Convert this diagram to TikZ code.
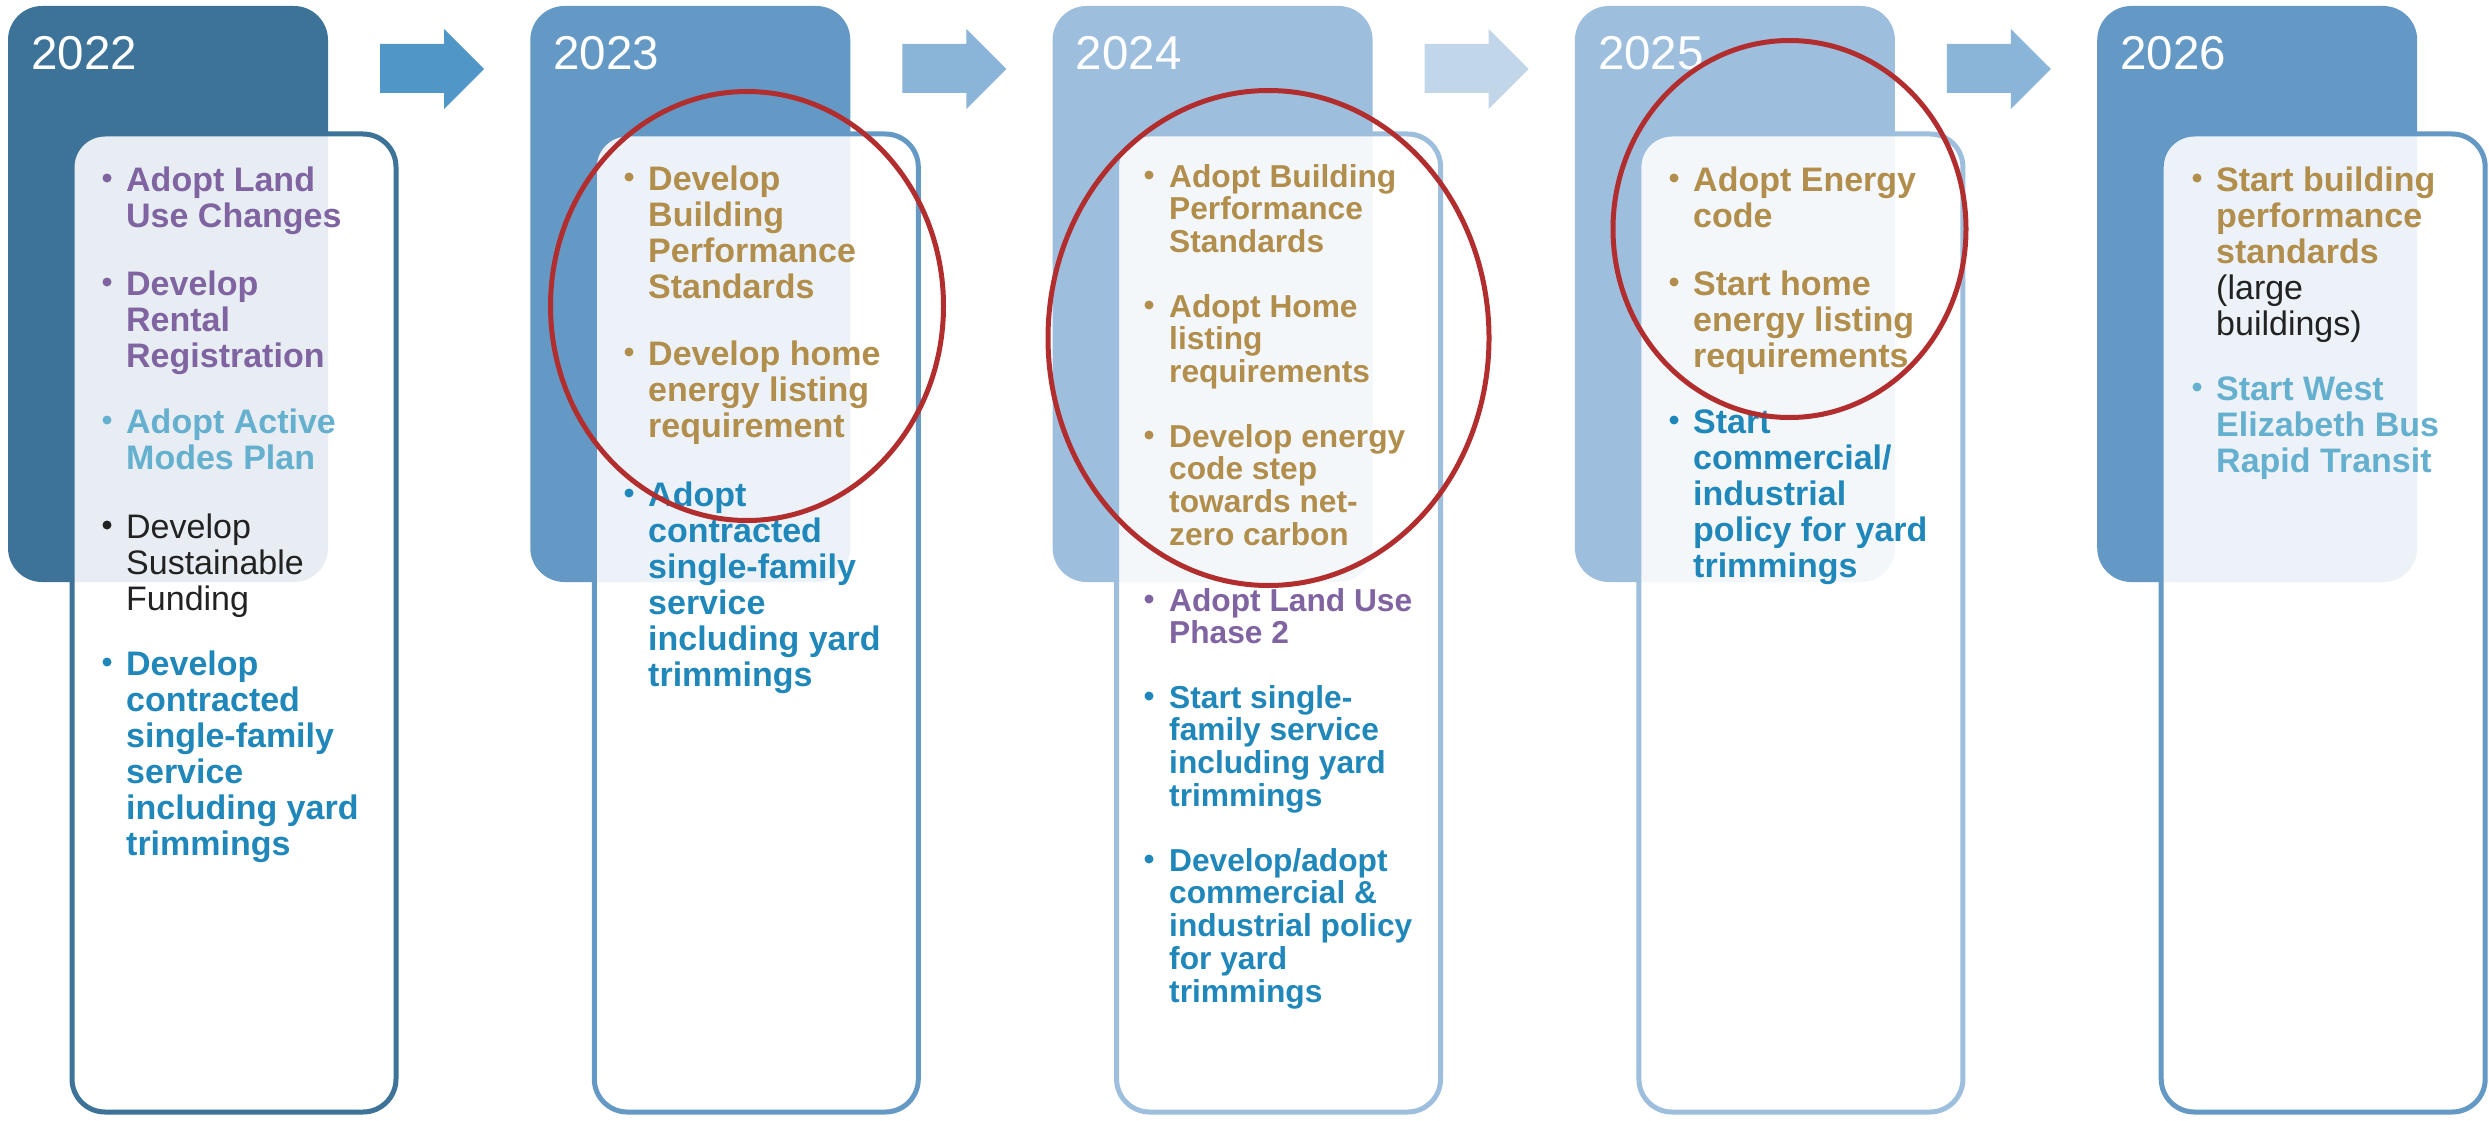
\documentclass[tikz,border=0pt]{standalone}
\usepackage{fontspec}
\setmainfont{Liberation Sans}
\usetikzlibrary{calc}
\definecolor{hA}{HTML}{3D7398}
\definecolor{hB}{HTML}{6499C6}
\definecolor{hC}{HTML}{9DBEDD}
\definecolor{aA}{HTML}{5097C7}
\definecolor{aB}{HTML}{8AB4D8}
\definecolor{aC}{HTML}{C2D6EA}
\definecolor{tPur}{HTML}{8064A2}
\definecolor{tGold}{HTML}{B28E4C}
\definecolor{tBlue}{HTML}{1F87BA}
\definecolor{tLight}{HTML}{65B0CE}
\definecolor{tBlack}{HTML}{222222}
\definecolor{ring}{HTML}{B22E2E}
\tikzset{
  yeartext/.style={inner sep=0, anchor=base west, text=white, font=\fontsize{47.5}{47.5}\selectfont},
  itemtext/.style={inner sep=0, anchor=base west},
  ringline/.style={draw=ring, line width=5pt},
}
\def\curfont{\fontsize{34}{36}\selectfont}
\def\bdx{-19}\def\bdy{-13}
\newcommand\bitem[5]{%
  \fill[#4] ($(#2,#3)+(\bdx,\bdy)$) circle[radius=4.5pt];
  \node[itemtext, text=#4] (#1) at (#2,#3) {\curfont\bfseries\begin{tabular}[t]{@{}l@{}}#5\end{tabular}};
}
\begin{document}
\begin{tikzpicture}[x=1pt,y=-1pt]
\fill[white] (0,0) rectangle (2489,1121);
\useasboundingbox (0,0) rectangle (2489,1121);
% headers and content boxes
\foreach \i/\hc in {0/hA,1/hB,2/hC,3/hC,4/hB}{
  \pgfmathsetmacro\o{522.3*\i}
  \fill[\hc, rounded corners=34pt] (8+\o,6) rectangle (328+\o,582);
  \draw[\hc, line width=5pt, fill=white, fill opacity=0.88, rounded corners=33pt] (72+\o,134) rectangle (396+\o,1112);
}
% arrows
\foreach \i/\ac in {0/aA,1/aB,2/aC,3/aB}{
  \pgfmathsetmacro\o{522.3*\i}
  \fill[\ac] (380+\o,44) -- (444+\o,44) -- (444+\o,29) -- (484+\o,69) -- (444+\o,109) -- (444+\o,93) -- (380+\o,93) -- cycle;
}
% years
\node[yeartext] (y22) at (31,70) {2022};
\node[yeartext] (y23) at (553.3,70) {2023};
\node[yeartext] (y24) at (1075.6,70) {2024};
\node[yeartext] (y25) at (1597.9,70) {2025};
\node[yeartext] (y26) at (2120.2,70) {2026};
% column 1
\bitem{c1a}{126}{191}{tPur}{Adopt Land\\Use Changes}
\bitem{c1b}{126}{295}{tPur}{Develop\\Rental\\Registration}
\bitem{c1c}{126}{433}{tLight}{Adopt Active\\Modes Plan}
\bitem{c1d}{126}{538}{tBlack}{\mdseries Develop\\\mdseries Sustainable\\\mdseries Funding}
\bitem{c1e}{126}{675}{tBlue}{Develop\\contracted\\single-family\\service\\including yard\\trimmings}
% column 2
\bitem{c2a}{648}{190}{tGold}{Develop\\Building\\Performance\\Standards}
\bitem{c2b}{648}{365}{tGold}{Develop home\\energy listing\\requirement}
\bitem{c2c}{648}{506}{tBlue}{Adopt\\contracted\\single-family\\service\\including yard\\trimmings}
% column 3
\def\curfont{\fontsize{31.7}{32.7}\selectfont}
\def\bdx{-20}\def\bdy{-12}
\bitem{c3a}{1169}{187}{tGold}{Adopt Building\\Performance\\Standards}
\bitem{c3b}{1169}{317}{tGold}{Adopt Home\\listing\\requirements}
\bitem{c3c}{1169}{447}{tGold}{Develop energy\\code step\\towards net-\\zero carbon}
\bitem{c3d}{1169}{611}{tPur}{Adopt Land Use\\Phase 2}
\bitem{c3e}{1169}{708}{tBlue}{Start single-\\family service\\including yard\\trimmings}
\bitem{c3f}{1169}{871}{tBlue}{Develop/adopt\\commercial \&\\industrial policy\\for yard\\trimmings}
% column 4
\def\curfont{\fontsize{34}{36}\selectfont}
\def\bdx{-19}\def\bdy{-13}
\bitem{c4a}{1693}{191}{tGold}{Adopt Energy\\code}
\bitem{c4b}{1693}{295}{tGold}{Start home\\energy listing\\requirements}
\bitem{c4c}{1693}{433}{tBlue}{Start\\commercial/\\industrial\\policy for yard\\trimmings}
% column 5
\bitem{c5a}{2216}{191}{tGold}{Start building\\performance\\standards\\{\color{tBlack}\mdseries (large}\\{\color{tBlack}\mdseries buildings)}}
\bitem{c5b}{2216}{400}{tLight}{Start West\\Elizabeth Bus\\Rapid Transit}
% red rings
\draw[ringline] (747,306) ellipse [x radius=196.5pt, y radius=214.5pt];
\draw[ringline] (1268.5,338) ellipse [x radius=220.5pt, y radius=247.5pt];
\draw[ringline] (1789.5,229) ellipse [x radius=176.5pt, y radius=188.5pt];
\end{tikzpicture}
\end{document}
